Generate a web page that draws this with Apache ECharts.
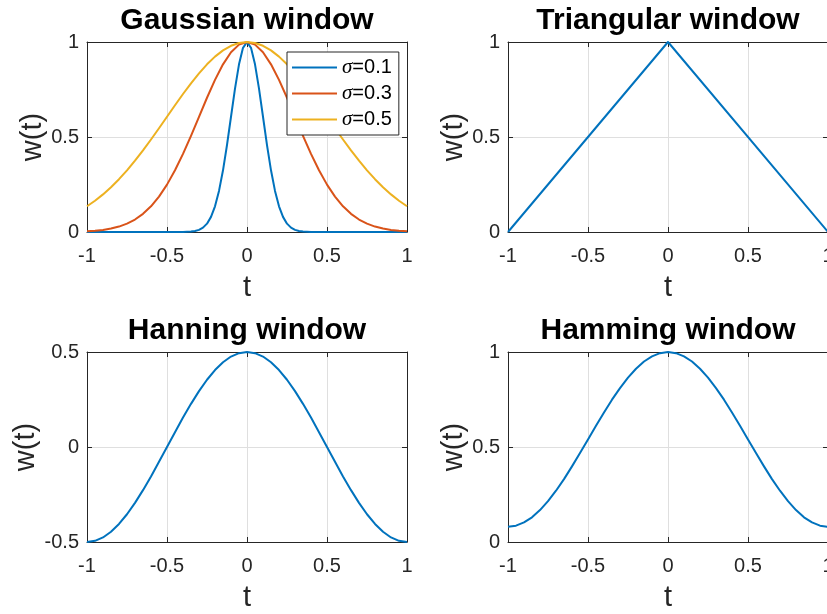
<!DOCTYPE html>
<html>
<head>
<meta charset="utf-8">
<script src="https://cdn.jsdelivr.net/npm/echarts@6/dist/echarts.min.js"></script>
<style>
  html, body { margin: 0; padding: 0; background: #fff; }
  #chart { width: 827px; height: 614px; }
</style>
</head>
<body>
<div id="chart"></div>
<script>
// Sample times shared by the smooth windows
const tGrid = [-1,-0.95,-0.9,-0.85,-0.8,-0.75,-0.7,-0.65,-0.6,-0.55,-0.5,-0.45,-0.4,-0.35,-0.3,-0.25,-0.2,-0.15,-0.1,-0.05,0,
               0.05,0.1,0.15,0.2,0.25,0.3,0.35,0.4,0.45,0.5,0.55,0.6,0.65,0.7,0.75,0.8,0.85,0.9,0.95,1];

// Gaussian, sigma = 0.1 (denser samples near the peak)
const tNarrow = [-1,-0.5,-0.4,-0.35,-0.325,-0.3,-0.275,-0.25,-0.225,-0.2,-0.175,-0.15,-0.125,-0.1,-0.075,-0.05,-0.025,0,
                 0.025,0.05,0.075,0.1,0.125,0.15,0.175,0.2,0.225,0.25,0.275,0.3,0.325,0.35,0.4,0.5,1];
const gauss01 = [0,0,0.0003,0.0022,0.0051,0.0111,0.0228,0.0439,0.0796,0.1353,0.2163,0.3247,0.4578,0.6065,0.7548,0.8825,0.9692,1,
                 0.9692,0.8825,0.7548,0.6065,0.4578,0.3247,0.2163,0.1353,0.0796,0.0439,0.0228,0.0111,0.0051,0.0022,0.0003,0,0];

// Gaussian, sigma = 0.3
const gauss03 = [0.0039,0.0066,0.0111,0.0181,0.0286,0.0439,0.0657,0.0956,0.1353,0.1863,0.2494,0.3247,0.4111,0.5063,0.6065,0.7066,0.8007,0.8825,0.946,0.9862,1,
                 0.9862,0.946,0.8825,0.8007,0.7066,0.6065,0.5063,0.4111,0.3247,0.2494,0.1863,0.1353,0.0956,0.0657,0.0439,0.0286,0.0181,0.0111,0.0066,0.0039];

// Gaussian, sigma = 0.5
const gauss05 = [0.1353,0.1645,0.1979,0.2357,0.278,0.3247,0.3753,0.4296,0.4868,0.5461,0.6065,0.667,0.7261,0.7827,0.8353,0.8825,0.9231,0.956,0.9802,0.995,1,
                 0.995,0.9802,0.956,0.9231,0.8825,0.8353,0.7827,0.7261,0.667,0.6065,0.5461,0.4868,0.4296,0.3753,0.3247,0.278,0.2357,0.1979,0.1645,0.1353];

// Triangular window corners
const tTri = [-1, 0, 1];
const triangular = [0, 1, 0];

// Hanning window
const hanning = [-0.5,-0.494,-0.476,-0.446,-0.405,-0.354,-0.294,-0.227,-0.155,-0.078,0,0.078,0.155,0.227,0.294,0.354,0.405,0.446,0.476,0.494,0.5,
                 0.494,0.476,0.446,0.405,0.354,0.294,0.227,0.155,0.078,0,-0.078,-0.155,-0.227,-0.294,-0.354,-0.405,-0.446,-0.476,-0.494,-0.5];

// Hamming window
const hamming = [0.08,0.086,0.103,0.13,0.168,0.215,0.27,0.331,0.398,0.468,0.54,0.612,0.682,0.749,0.81,0.865,0.912,0.95,0.977,0.994,1,
                 0.994,0.977,0.95,0.912,0.865,0.81,0.749,0.682,0.612,0.54,0.468,0.398,0.331,0.27,0.215,0.168,0.13,0.103,0.086,0.08];

const panelTitles = ['Gaussian window', 'Triangular window', 'Hanning window', 'Hamming window'];
const sigmaNames = ['σ=0.1', 'σ=0.3', 'σ=0.5'];
const yRanges = [[0, 1], [0, 1], [-0.5, 0.5], [0, 1]];

const FONT = '"Liberation Sans", Arial, Helvetica, sans-serif';
const AX = '#262626';
const GRIDC = '#dfdfdf';
const C1 = '#0072BD', C2 = '#D95319', C3 = '#EDB120';

const panels = [
  { left: 87,  top: 42 },
  { left: 508, top: 42 },
  { left: 87,  top: 352 },
  { left: 508, top: 352 }
];
const W = 320, H = 190;

const grids = [], xAxes = [], yAxes = [], titles = [];
panels.forEach((p, i) => {
  grids.push({ left: p.left, top: p.top, width: W, height: H, containLabel: false, outerBoundsMode: 'none' });
  titles.push({
    text: panelTitles[i], left: p.left + W / 2, top: p.top - 36, textAlign: 'center', padding: 0,
    textStyle: { fontFamily: FONT, fontWeight: 'bold', fontSize: 30, color: '#000' }
  });
  // bottom axis with labels
  xAxes.push({
    gridIndex: i, type: 'value', min: -1, max: 1, interval: 0.5, position: 'bottom',
    name: 't', nameLocation: 'middle', nameGap: 41,
    nameTextStyle: { fontFamily: FONT, fontSize: 29, color: AX },
    axisLine: { onZero: false, lineStyle: { color: AX, width: 1 } },
    axisTick: { inside: true, length: 5, lineStyle: { color: AX } },
    axisLabel: { margin: 14, fontFamily: FONT, fontSize: 20, color: AX, showMinLabel: true, showMaxLabel: true, hideOverlap: false },
    splitLine: { show: true, lineStyle: { color: GRIDC, width: 1 } }
  });
  // top frame edge
  xAxes.push({
    gridIndex: i, type: 'value', min: -1, max: 1, interval: 0.5, position: 'top',
    axisLine: { onZero: false, lineStyle: { color: AX, width: 1 } },
    axisTick: { inside: true, length: 5, lineStyle: { color: AX } },
    axisLabel: { show: false }, splitLine: { show: false }
  });
  const [ymin, ymax] = yRanges[i];
  yAxes.push({
    gridIndex: i, type: 'value', min: ymin, max: ymax, interval: 0.5, position: 'left',
    name: 'w(t)', nameLocation: 'middle', nameGap: 40,
    nameTextStyle: { fontFamily: FONT, fontSize: 29, color: AX },
    axisLine: { show: true, onZero: false, lineStyle: { color: AX, width: 1 } },
    axisTick: { show: true, inside: true, length: 5, lineStyle: { color: AX } },
    axisLabel: { margin: 8, fontFamily: FONT, fontSize: 20, color: AX, showMinLabel: true, showMaxLabel: true },
    splitLine: { show: true, lineStyle: { color: GRIDC, width: 1 } }
  });
  // right frame edge
  yAxes.push({
    gridIndex: i, type: 'value', min: ymin, max: ymax, interval: 0.5, position: 'right',
    axisLine: { show: true, onZero: false, lineStyle: { color: AX, width: 1 } },
    axisTick: { show: true, inside: true, length: 5, lineStyle: { color: AX } },
    axisLabel: { show: false }, splitLine: { show: false }
  });
});

function pairs(ts, ws) { return ts.map((t, k) => [t, ws[k]]); }

function lineSeries(name, panel, ts, ws, color) {
  return {
    name: name, type: 'line', xAxisIndex: panel * 2, yAxisIndex: panel * 2,
    data: pairs(ts, ws), showSymbol: false, symbol: 'none', clip: false,
    smooth: false,
    lineStyle: { color: color, width: 2, join: 'round' }, itemStyle: { color: color },
    emphasis: { disabled: true }, animation: false
  };
}

const series = [
  lineSeries(sigmaNames[0], 0, tNarrow, gauss01, C1),
  lineSeries(sigmaNames[1], 0, tGrid, gauss03, C2),
  lineSeries(sigmaNames[2], 0, tGrid, gauss05, C3),
  lineSeries('triangular', 1, tTri, triangular, C1),
  lineSeries('hanning', 2, tGrid, hanning, C1),
  lineSeries('hamming', 3, tGrid, hamming, C1)
];

const chart = echarts.init(document.getElementById('chart'), null, { renderer: 'canvas' });
chart.setOption({
  backgroundColor: '#fff',
  animation: false,
  title: titles,
  grid: grids,
  xAxis: xAxes,
  yAxis: yAxes,
  legend: {
    data: sigmaNames, orient: 'vertical', left: 287, top: 52,
    padding: [5, 7, 5, 5], itemGap: 5, itemWidth: 45, itemHeight: 2, icon: 'rect',
    backgroundColor: '#fff', borderColor: AX, borderWidth: 1, borderRadius: 0,
    selectedMode: false,
    formatter: function (n) { return '{s|σ}' + n.slice(1); },
    textStyle: {
      fontFamily: FONT, fontSize: 20, color: '#000', lineHeight: 20,
      rich: { s: { fontFamily: '"Liberation Serif", "Times New Roman", serif', fontStyle: 'italic', fontSize: 21, color: '#000' } }
    }
  },
  series: series
});
</script>
</body>
</html>
